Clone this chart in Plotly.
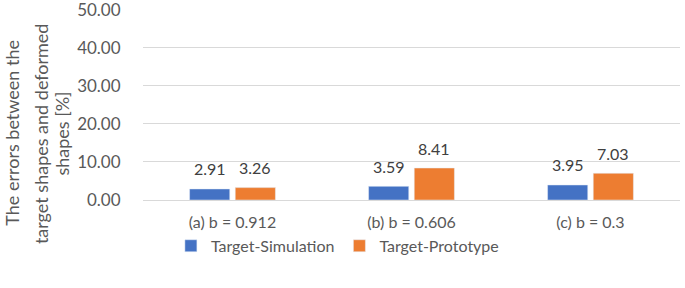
import plotly.graph_objects as go

categories = ["(a) b = 0.912", "(b) b = 0.606", "(c) b = 0.3"]
sim_values = [2.91, 3.59, 3.95]
proto_values = [3.26, 8.41, 7.03]
series_names = ["Target-Simulation", "Target-Prototype"]
y_tick_vals = [0, 10, 20, 30, 40, 50]
y_title_lines = ["The errors between the", "target shapes and deformed", "shapes [%]"]

FONT = "Lato"
GRAY = "#595959"
BLUE = "#4472C4"
ORANGE = "#ED7D31"

fig = go.Figure()
fig.add_trace(go.Bar(x=categories, y=sim_values, name=series_names[0],
                     marker_color=BLUE, offsetgroup=0))
fig.add_trace(go.Bar(x=categories, y=proto_values, name=series_names[1],
                     marker_color=ORANGE, offsetgroup=1))

# data labels above the bars
for i, c in enumerate(categories):
    for j, vals in enumerate([sim_values, proto_values]):
        fig.add_annotation(x=i + (-0.127 if j == 0 else 0.127), y=vals[i],
                           xref="x", yref="y", text=f"{vals[i]:.2f}",
                           showarrow=False, yshift=20,
                           font=dict(family=FONT, size=16, color="#404040"))

# y-axis title, one annotation per line
for k, (line, xp) in enumerate(zip(y_title_lines, [-0.243, -0.190, -0.150])):
    fig.add_annotation(xref="paper", yref="paper", x=xp, y=0.35,
                       xanchor="center", yanchor="middle",
                       text=line, textangle=-90, showarrow=False,
                       font=dict(family=FONT, size=18, color=GRAY))

fig.update_layout(
    width=685, height=288,
    margin=dict(l=143, r=5, t=9, b=88, autoexpand=False),
    paper_bgcolor="white", plot_bgcolor="white",
    barmode="group", bargap=0.49, bargroupgap=0.12,
    font=dict(family=FONT, size=16, color=GRAY),
    showlegend=True,
    legend=dict(orientation="h", x=0.362, xanchor="center", y=-0.24, yanchor="middle",
                bgcolor="rgba(0,0,0,0)",
                font=dict(family=FONT, size=16, color=GRAY),
                traceorder="normal"),
    xaxis=dict(type="category", showgrid=False, showline=True, linecolor="#D9D9D9",
               linewidth=1, ticks="outside", ticklen=8, tickcolor="rgba(0,0,0,0)",
               tickfont=dict(family=FONT, size=16, color=GRAY), automargin=False),
    yaxis=dict(range=[0, 50.25], tickvals=y_tick_vals, tickformat=".2f",
               showgrid=True, gridcolor="#D9D9D9", gridwidth=1, zeroline=False,
               showline=False, ticks="outside", ticklen=18, tickcolor="rgba(0,0,0,0)",
               ticklabeloverflow="allow",
               tickfont=dict(family=FONT, size=17, color=GRAY), automargin=False),
)

fig.write_html("out.html", config={"displayModeBar": False},
               post_script="document.body.style.margin='0px';")
